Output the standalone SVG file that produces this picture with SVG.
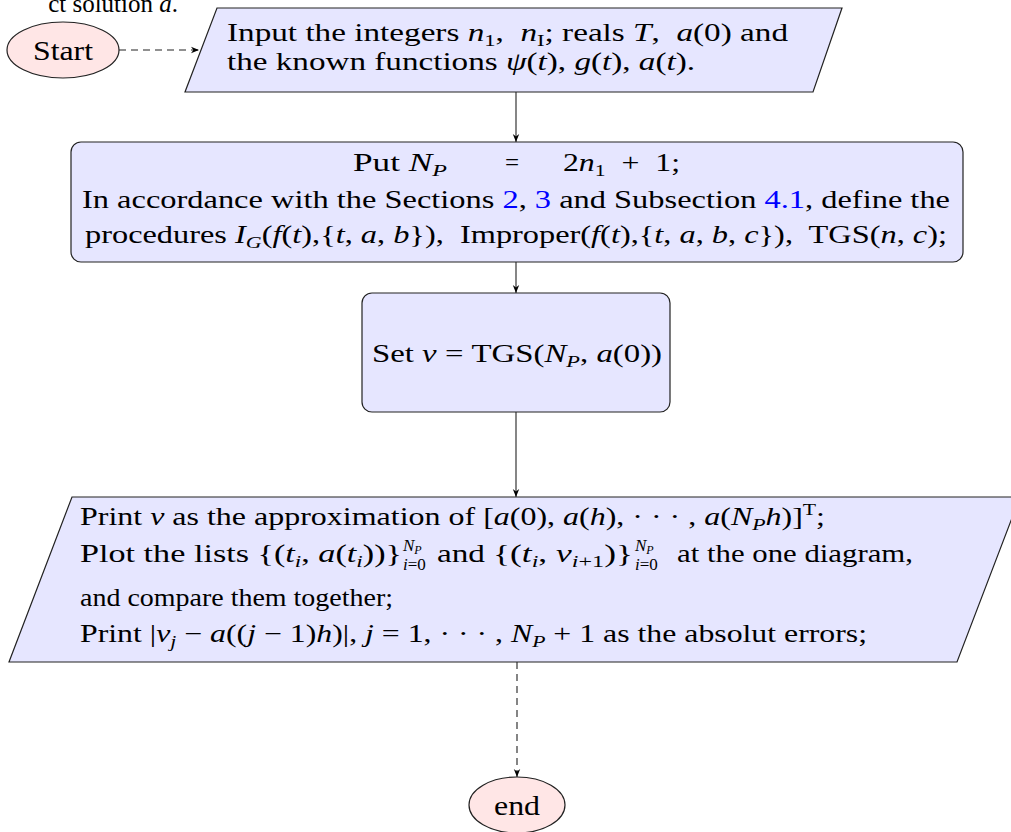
<svg xmlns="http://www.w3.org/2000/svg" width="1011" height="832" viewBox="0 0 1011 832">
<defs>
<marker id="ah" viewBox="0 0 10 10" refX="10" refY="5" markerWidth="8" markerHeight="8" orient="auto" markerUnits="userSpaceOnUse">
<path d="M0,1 L10,5 L0,9 L3,5 z" fill="#000"/>
</marker>
</defs>
<style>
text{font-family:"Liberation Serif","Times New Roman",serif;font-size:25px;fill:#000}
.m{font-style:italic}
.s{font-size:17px}
.ss{font-size:12px}
.b{fill:#0000ff}
.t{font-size:28px}
.box{fill:#e6e6ff;stroke:#222;stroke-width:1.2}
.term{fill:#ffe6e6;stroke:#222;stroke-width:1.2}
.c{fill:none;stroke:#222;stroke-width:1.1}
.d{stroke-dasharray:7 5}
</style>
<rect width="1011" height="832" fill="#fff"/>
<text x="178" y="12" text-anchor="end">ct solution <tspan class="m">a</tspan>.</text>

<g id="connectors">
<line class="c d" x1="119" y1="50" x2="199" y2="50" marker-end="url(#ah)"/>
<line class="c" x1="516" y1="92" x2="516" y2="142" marker-end="url(#ah)"/>
<line class="c" x1="516" y1="262" x2="516" y2="293" marker-end="url(#ah)"/>
<line class="c" x1="516" y1="412" x2="516" y2="497" marker-end="url(#ah)"/>
<line class="c d" x1="517" y1="662" x2="517" y2="777" marker-end="url(#ah)"/>
</g>

<g id="start">
<ellipse class="term" cx="63" cy="50" rx="56" ry="28"/>
<text class="t" x="33" y="60" textLength="60" lengthAdjust="spacingAndGlyphs">Start</text>
</g>

<g id="input">
<polygon class="box" points="217,8 842,8 813,92 185,92"/>
<text x="227" y="41" textLength="561" lengthAdjust="spacingAndGlyphs" xml:space="preserve">Input the integers <tspan class="m">n</tspan><tspan class="s" dy="5">1</tspan><tspan dy="-5">,  </tspan><tspan class="m">n</tspan><tspan class="s" dy="5">I</tspan><tspan dy="-5">; reals </tspan><tspan class="m">T</tspan>,  <tspan class="m">a</tspan>(0) and</text>
<text x="227" y="70" textLength="468" lengthAdjust="spacingAndGlyphs" xml:space="preserve">the known functions <tspan class="m">ψ</tspan>(<tspan class="m">t</tspan>), <tspan class="m">g</tspan>(<tspan class="m">t</tspan>), <tspan class="m">a</tspan>(<tspan class="m">t</tspan>).</text>
</g>

<g id="define">
<rect class="box" x="71" y="142" width="892" height="120" rx="10"/>
<text x="353" y="171" textLength="94" lengthAdjust="spacingAndGlyphs">Put <tspan class="m">N</tspan><tspan class="s m" dy="5">P</tspan></text>
<text x="512" y="171" text-anchor="middle">=</text>
<text x="563" y="171" textLength="117" lengthAdjust="spacingAndGlyphs" xml:space="preserve">2<tspan class="m">n</tspan><tspan class="s" dy="5">1</tspan><tspan dy="-5">  +  1;</tspan></text>
<text x="82" y="208" textLength="868" lengthAdjust="spacingAndGlyphs" xml:space="preserve">In accordance with the Sections <tspan class="b">2</tspan>, <tspan class="b">3</tspan> and Subsection <tspan class="b">4.1</tspan>, define the</text>
<text x="85" y="243" textLength="862" lengthAdjust="spacingAndGlyphs" xml:space="preserve">procedures <tspan class="m">I</tspan><tspan class="s m" dy="5">G</tspan><tspan dy="-5">(</tspan><tspan class="m">f</tspan>(<tspan class="m">t</tspan>),{<tspan class="m">t</tspan>, <tspan class="m">a</tspan>, <tspan class="m">b</tspan>}),  Improper(<tspan class="m">f</tspan>(<tspan class="m">t</tspan>),{<tspan class="m">t</tspan>, <tspan class="m">a</tspan>, <tspan class="m">b</tspan>, <tspan class="m">c</tspan>}),  TGS(<tspan class="m">n</tspan>, <tspan class="m">c</tspan>);</text>
</g>

<g id="set">
<rect class="box" x="362" y="293" width="308" height="119" rx="10"/>
<text x="372" y="362" textLength="290" lengthAdjust="spacingAndGlyphs" xml:space="preserve">Set <tspan class="m">ν</tspan> = TGS(<tspan class="m">N</tspan><tspan class="s m" dy="5">P</tspan><tspan dy="-5">, </tspan><tspan class="m">a</tspan>(0))</text>
</g>

<g id="print">
<polygon class="box" points="72,497 1020,497 957,662 9,662"/>
<text x="80" y="525" textLength="745" lengthAdjust="spacingAndGlyphs" xml:space="preserve">Print <tspan class="m">ν</tspan> as the approximation of [<tspan class="m">a</tspan>(0), <tspan class="m">a</tspan>(<tspan class="m">h</tspan>), · · · , <tspan class="m">a</tspan>(<tspan class="m">N</tspan><tspan class="s m" dy="5">P</tspan><tspan class="m" dy="-5">h</tspan>)]<tspan class="s" dy="-10">T</tspan><tspan dy="10">;</tspan></text>
<text x="80" y="562" textLength="322" lengthAdjust="spacingAndGlyphs" xml:space="preserve">Plot the lists {(<tspan class="m">t</tspan><tspan class="s m" dy="5">i</tspan><tspan dy="-5">, </tspan><tspan class="m">a</tspan>(<tspan class="m">t</tspan><tspan class="s m" dy="5">i</tspan><tspan dy="-5">))}</tspan></text>
<text x="403" y="551" class="s"><tspan class="m">N</tspan><tspan class="ss m" dy="3">P</tspan></text>
<text x="403" y="570" class="s"><tspan class="m">i</tspan>=0</text>
<text x="437" y="562" textLength="48" lengthAdjust="spacingAndGlyphs">and</text>
<text x="493" y="562" textLength="140" lengthAdjust="spacingAndGlyphs" xml:space="preserve">{(<tspan class="m">t</tspan><tspan class="s m" dy="5">i</tspan><tspan dy="-5">, </tspan><tspan class="m">ν</tspan><tspan class="s" dy="5"><tspan class="m">i</tspan>+1</tspan><tspan dy="-5">)}</tspan></text>
<text x="635" y="551" class="s"><tspan class="m">N</tspan><tspan class="ss m" dy="3">P</tspan></text>
<text x="635" y="570" class="s"><tspan class="m">i</tspan>=0</text>
<text x="677" y="562" textLength="236" lengthAdjust="spacingAndGlyphs">at the one diagram,</text>
<text x="80" y="606" textLength="313" lengthAdjust="spacingAndGlyphs">and compare them together;</text>
<text x="80" y="642" textLength="787" lengthAdjust="spacingAndGlyphs" xml:space="preserve">Print |<tspan class="m">ν</tspan><tspan class="s m" dy="5">j</tspan><tspan dy="-5"> − </tspan><tspan class="m">a</tspan>((<tspan class="m">j</tspan> − 1)<tspan class="m">h</tspan>)|, <tspan class="m">j</tspan> = 1, · · · , <tspan class="m">N</tspan><tspan class="s m" dy="5">P</tspan><tspan dy="-5"> + 1 as the absolut errors;</tspan></text>
</g>

<g id="end">
<ellipse class="term" cx="517" cy="805" rx="48" ry="28"/>
<text class="t" x="494" y="815" textLength="46" lengthAdjust="spacingAndGlyphs">end</text>
</g>
</svg>
